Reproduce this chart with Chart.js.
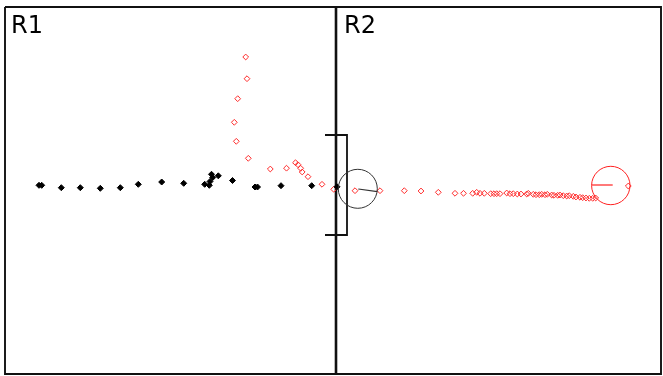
<!DOCTYPE html>
<html>
<head>
<meta charset="utf-8">
<script src="https://cdn.jsdelivr.net/npm/chart.js@4/dist/chart.umd.min.js"></script>
<style>
  html, body { margin: 0; padding: 0; background: #fff; }
  #wrap { width: 663px; height: 376px; }
</style>
</head>
<body>
<div id="wrap"><canvas id="c" width="663" height="376"></canvas></div>
<script>
// Field coordinates (x to the right, y downward), one unit per screen pixel.
const FIELD_W = 663;
const FIELD_H = 376;

// Region labels
const regionNames = ['R1', 'R2'];
const regionLabelX = [12, 345];
const regionLabelY = [15, 15];

// Region frames
const r1Frame = [[5, 7], [336, 7], [336, 374], [5, 374], [5, 7]];
const r2Frame = [[336, 7], [661, 7], [661, 374], [336, 374]];
const divider = [[336, 7], [336, 374]];

// Bracket marker on the boundary
const bracket = [[325, 135], [347, 135], [347, 235], [325, 235]];

// Track A (black, filled)
const trackAX = [39, 41.7, 61.3, 80.3, 100.3, 120.3, 138.3, 161.7, 183.7, 204.7, 210, 209.3, 211.5, 212.7, 218.3, 232.5, 255, 257.5, 281, 311.7, 337];
const trackAY = [185.3, 185.3, 187.7, 187.7, 188.3, 187.7, 184.3, 182, 183.3, 184.3, 181.5, 185.3, 174.3, 177.5, 175.8, 180.5, 187, 187, 185.7, 185.7, 186.8];

// Track B (red, open)
const trackBX = [245.7, 247, 237.7, 234.3, 236.3, 248.3, 270.3, 286.5, 295.5, 298, 300.7, 302.2, 308, 322, 333.7,
  355, 380, 404.3, 421, 438.3, 455, 463.5, 472.7, 476.7, 480, 484.3, 490.7, 494, 496.7, 500, 506.7, 510, 513.3,
  517.3, 521, 526.7, 528.3, 533.3, 536, 539.3, 541.7, 545, 547.3, 551.7, 554, 557.7, 560, 563.3, 566.7, 569.3,
  573.3, 576, 580, 582.7, 586, 589.3, 592.7, 595.7, 628.3];
const trackBY = [57, 78.7, 98.7, 122.3, 141.3, 158.3, 169, 168.2, 162.7, 164.7, 168.3, 172, 176.7, 184.3, 189.3,
  190.7, 190.7, 190.7, 191, 192.3, 193.3, 193.3, 193.3, 192.3, 193.3, 193.3, 193.7, 193.7, 193.7, 193.7, 193, 193.7, 193.7,
  194, 194, 194, 193.3, 194.3, 194.7, 194.7, 194.3, 194.7, 194.3, 195, 195.3, 195.3, 195, 195.7, 196, 195.7,
  196.3, 197, 197.3, 197.7, 198, 198.3, 198.3, 198, 186];

// Range rings: centre x, centre y, radius, colour
const ringX = [357.8, 610.8];
const ringY = [188.8, 185.5];
const ringR = [19.5, 19.2];
const ringColor = ['#333333', '#ff2020'];

// Heading ticks drawn from each ring
const headingA = [[358.3, 189], [377.3, 191.7]];
const headingB = [[591.7, 185], [612.7, 185]];

const pts = (xs, ys) => xs.map((x, i) => ({ x, y: ys[i] }));
const pairs = arr => arr.map(([x, y]) => ({ x, y }));

const lineSet = (data, color, width) => ({
  data: pairs(data), showLine: true, borderColor: color, borderWidth: width,
  pointRadius: 0, fill: false, tension: 0, clip: false, order: 5
});

const ringsPlugin = {
  id: 'rings',
  afterDatasetsDraw(chart) {
    const { ctx, scales: { x, y } } = chart;
    ctx.save();
    ringX.forEach((cx, i) => {
      const px = x.getPixelForValue(cx);
      const py = y.getPixelForValue(ringY[i]);
      const pr = Math.abs(x.getPixelForValue(cx + ringR[i]) - px);
      ctx.beginPath();
      ctx.arc(px, py, pr, 0, Math.PI * 2);
      ctx.strokeStyle = ringColor[i];
      ctx.lineWidth = 1;
      ctx.stroke();
    });
    ctx.restore();
  }
};

const labelsPlugin = {
  id: 'regionLabels',
  afterDraw(chart) {
    const { ctx, scales: { x, y } } = chart;
    ctx.save();
    ctx.font = '24px "DejaVu Sans", sans-serif';
    ctx.fillStyle = '#000';
    ctx.textAlign = 'left';
    ctx.textBaseline = 'alphabetic';
    regionNames.forEach((name, i) => {
      const px = x.getPixelForValue(regionLabelX[i]);
      const py = y.getPixelForValue(regionLabelY[i]);
      const capH = ctx.measureText(name).actualBoundingBoxAscent;
      ctx.fillText(name, px - 1, py + capH);
    });
    ctx.restore();
  }
};

new Chart(document.getElementById('c'), {
  type: 'scatter',
  data: {
    datasets: [
      {
        data: pts(trackAX, trackAY), pointStyle: 'rectRot', pointRadius: 3,
        backgroundColor: '#000', borderColor: '#000', borderWidth: 1, clip: false, order: 0
      },
      {
        data: pts(trackBX, trackBY), pointStyle: 'rectRot', pointRadius: 2.9,
        backgroundColor: 'rgba(255,255,255,0)', borderColor: '#ff2a2a', borderWidth: 1, clip: false, order: 1
      },
      lineSet(headingA, '#333333', 1.2),
      lineSet(headingB, '#ff2020', 1.2),
      lineSet(bracket, '#111', 1.8),
      lineSet(divider, '#111', 2.6),
      lineSet(r1Frame, '#111', 1.9),
      lineSet(r2Frame, '#111', 1.9)
    ]
  },
  options: {
    responsive: false,
    animation: false,
    layout: { padding: 0, autoPadding: false },
    plugins: { legend: { display: false }, tooltip: { enabled: false } },
    scales: {
      x: { type: 'linear', min: 0, max: FIELD_W, display: false },
      y: { type: 'linear', min: 0, max: FIELD_H, reverse: true, display: false }
    }
  },
  plugins: [ringsPlugin, labelsPlugin]
});
</script>
</body>
</html>
